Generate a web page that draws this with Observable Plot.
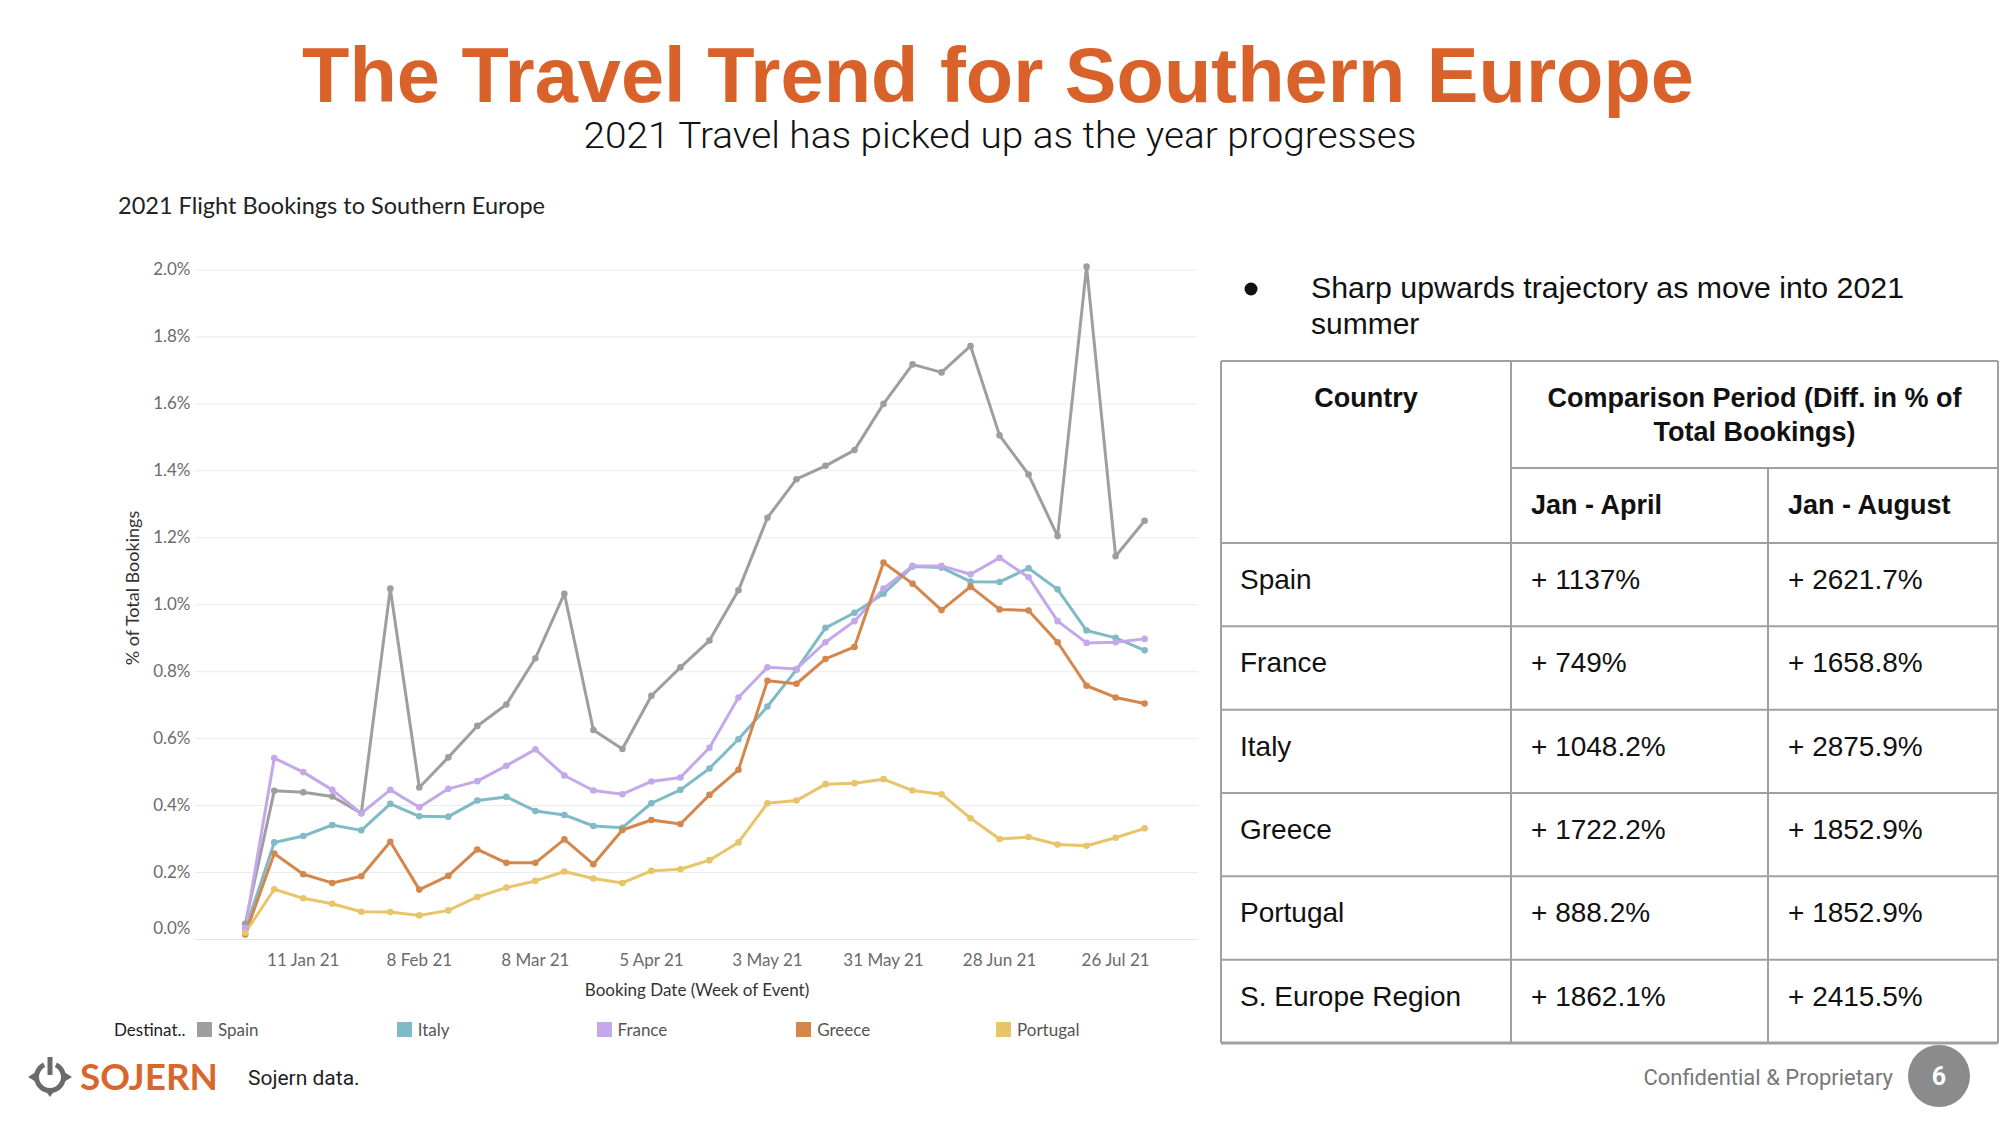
<!DOCTYPE html>
<html><head><meta charset="utf-8">
<script src="https://cdn.jsdelivr.net/npm/d3@7"></script>
<script src="https://cdn.jsdelivr.net/npm/@observablehq/plot@0.6"></script>
<style>
html,body{margin:0;padding:0;background:#fff;}
body{width:2000px;height:1125px;position:relative;overflow:hidden;}
#page{position:absolute;left:0;top:0;}
#chart{position:absolute;left:0;top:200px;}
#legend{position:absolute;left:114px;top:1013px;height:33px;display:flex;align-items:center;font-family:Lato,sans-serif;font-size:17px;color:#555;}
#legend .lbl{display:inline-block;width:83px;color:#222;}
.lg-swatches-wrap{margin:0 !important;}
.lg-swatches-wrap .lg-swatch{width:199.75px;margin-right:0 !important;}
.lg-swatch > svg{margin-right:6px !important;}
</style></head>
<body>
<svg id="page" width="2000" height="1125"></svg>
<div id="chart"></div>
<div id="legend"></div>
<script>
// ---------- data ----------
const weeks = ["2020-12-28","2021-01-04","2021-01-11","2021-01-18","2021-01-25","2021-02-01","2021-02-08","2021-02-15","2021-02-22","2021-03-01","2021-03-08","2021-03-15","2021-03-22","2021-03-29","2021-04-05","2021-04-12","2021-04-19","2021-04-26","2021-05-03","2021-05-10","2021-05-17","2021-05-24","2021-05-31","2021-06-07","2021-06-14","2021-06-21","2021-06-28","2021-07-05","2021-07-12","2021-07-19","2021-07-26","2021-08-02"];
const countries = ["Spain","Italy","France","Greece","Portugal"];
const palette = ["#9e9e9e","#7fbac6","#c4a8ea","#d4874c","#e8c46a"];
const spain    = [0.047,0.444,0.440,0.427,0.377,1.048,0.454,0.544,0.638,0.702,0.840,1.033,0.626,0.569,0.728,0.813,0.893,1.043,1.260,1.375,1.415,1.462,1.600,1.718,1.694,1.773,1.506,1.389,1.205,2.010,1.145,1.251];
const italy    = [0.029,0.290,0.309,0.342,0.326,0.405,0.368,0.367,0.415,0.426,0.384,0.372,0.339,0.334,0.407,0.447,0.511,0.598,0.696,0.806,0.931,0.976,1.033,1.114,1.111,1.069,1.068,1.109,1.046,0.923,0.901,0.864];
const france   = [0.035,0.542,0.500,0.447,0.377,0.447,0.395,0.450,0.473,0.519,0.568,0.490,0.445,0.434,0.472,0.484,0.573,0.723,0.813,0.808,0.888,0.951,1.048,1.116,1.116,1.091,1.140,1.082,0.951,0.886,0.888,0.898];
const greece   = [0.015,0.257,0.195,0.169,0.189,0.292,0.149,0.190,0.269,0.229,0.229,0.299,0.225,0.327,0.357,0.345,0.432,0.507,0.773,0.764,0.838,0.874,1.126,1.063,0.984,1.054,0.986,0.983,0.888,0.758,0.723,0.705];
const portugal = [0.020,0.150,0.123,0.107,0.083,0.082,0.072,0.087,0.127,0.155,0.175,0.203,0.182,0.169,0.205,0.210,0.237,0.290,0.407,0.415,0.464,0.467,0.479,0.445,0.434,0.362,0.300,0.306,0.284,0.280,0.304,0.332];
const yTicks = [0,0.2,0.4,0.6,0.8,1.0,1.2,1.4,1.6,1.8,2.0];
const xTicks = ["2021-01-11","2021-02-08","2021-03-08","2021-04-05","2021-05-03","2021-05-31","2021-06-28","2021-07-26"];
const xLabel = "Booking Date (Week of Event)";
const yLabel = "% of Total Bookings";
const chartTitle = "2021 Flight Bookings to Southern Europe";
const legendTitle = "Destinat..";

const tableCountries = ["Spain","France","Italy","Greece","Portugal","S. Europe Region"];
const janApril  = ["+ 1137%","+ 749%","+ 1048.2%","+ 1722.2%","+ 888.2%","+ 1862.1%"];
const janAugust = ["+ 2621.7%","+ 1658.8%","+ 2875.9%","+ 1852.9%","+ 1852.9%","+ 2415.5%"];

// ---------- chart ----------
const seriesList = [spain, italy, france, greece, portugal];
const data = [];
countries.forEach((c, ci) => seriesList[ci].forEach((v, i) => data.push({date: new Date(weeks[i]), value: v, country: c})));
const pct = d => d.toFixed(1) + "%";

const chart = Plot.plot({
  width: 1200, height: 800,
  marginLeft: 195, marginRight: 2, marginTop: 36, marginBottom: 61,
  style: {fontFamily: "Lato, sans-serif", fontSize: "17px", background: "transparent", overflow: "visible"},
  x: {type: "utc", domain: [new Date("2020-12-16"), new Date("2021-08-15")]},
  y: {domain: [0, 2.1]},
  color: {domain: countries, range: palette},
  marks: [
    Plot.gridY(yTicks.slice(1), {stroke: "#ececec", strokeOpacity: 1}),
    Plot.ruleY([0], {stroke: "#e2e2e2"}),
    Plot.axisY(yTicks.slice(1), {tickSize: 0, tickPadding: 5, tickFormat: pct, color: "#6b6b6b", label: null}),
    Plot.axisY([0], {tickSize: 0, tickPadding: 5, tickFormat: pct, color: "#6b6b6b", dy: -11, label: null}),
    Plot.axisX(xTicks.map(d => new Date(d)), {tickSize: 0, tickPadding: 14, tickFormat: d3.utcFormat("%-d %b %y"), color: "#6b6b6b", label: null}),
    Plot.text([yLabel], {frameAnchor: "left", textAnchor: "middle", dx: -62, rotate: -90, fill: "#333", fontSize: 18}),
    Plot.text([xLabel], {frameAnchor: "bottom", dy: 56, fill: "#333", fontSize: 17}),
    Plot.line(data, {x: "date", y: "value", stroke: "country", z: "country", strokeWidth: 3}),
    Plot.dot(data, {x: "date", y: "value", fill: "country", r: 3.3})
  ]
});
document.getElementById("chart").appendChild(chart);

// legend
const legendDiv = document.getElementById("legend");
const lbl = document.createElement("span");
lbl.className = "lbl"; lbl.textContent = legendTitle;
legendDiv.appendChild(lbl);
const lg = chart.legend("color", {className: "lg", swatchSize: 15, style: {fontFamily: "Lato, sans-serif", fontSize: "17px", color: "#555"}});
legendDiv.appendChild(lg);

// ---------- page decoration ----------
const svg = d3.select("#page");
function T(x, y, txt, a) {
  const t = svg.append("text").attr("x", x).attr("y", y).text(txt);
  for (const k in a) t.attr(k, a[k]);
  return t;
}
const ARIAL = "'Liberation Sans', Arial, sans-serif";
T(998, 102, "The Travel Trend for Southern Europe", {"font-family": ARIAL, "font-weight": 700, "font-size": 77, fill: "#d9622b", "text-anchor": "middle", textLength: 1392, lengthAdjust: "spacingAndGlyphs"});
T(1000, 148, "2021 Travel has picked up as the year progresses", {"font-family": "Roboto, sans-serif", "font-weight": 300, "font-size": 37, fill: "#111", "text-anchor": "middle", textLength: 833, lengthAdjust: "spacingAndGlyphs"});
T(118, 214, chartTitle, {"font-family": "Lato, sans-serif", "font-size": 23, fill: "#222", textLength: 427, lengthAdjust: "spacingAndGlyphs"});

// bullet
svg.append("circle").attr("cx", 1251).attr("cy", 289).attr("r", 6.5).attr("fill", "#111");
T(1311, 298, "Sharp upwards trajectory as move into 2021", {"font-family": ARIAL, "font-size": 30, fill: "#111", textLength: 593, lengthAdjust: "spacingAndGlyphs"});
T(1311, 334, "summer", {"font-family": ARIAL, "font-size": 30, fill: "#111"});

// table
const TL = 1221, TR = 1998, TT = 361, TB = 1043, C1 = 1511, C2 = 1768, HS = 468, HB = 543, RH = (TB - HB) / tableCountries.length;
const lineC = "#a0a0a0";
function L(x1, y1, x2, y2, w) { svg.append("line").attr("x1", x1).attr("y1", y1).attr("x2", x2).attr("y2", y2).attr("stroke", lineC).attr("stroke-width", w || 2); }
L(TL, TT, TR, TT); L(TL, TT, TL, TB); L(TR, TT, TR, TB); L(TL, TB, TR, TB, 3);
L(C1, TT, C1, TB); L(C2, HS, C2, TB); L(C1, HS, TR, HS);
for (let i = 0; i < tableCountries.length; i++) L(TL, HB + i * RH, TR, HB + i * RH);
const hb = {"font-family": ARIAL, "font-weight": 700, "font-size": 27, fill: "#111"};
T((TL + C1) / 2, 407, "Country", Object.assign({"text-anchor": "middle"}, hb));
T((C1 + TR) / 2, 407, "Comparison Period (Diff. in % of", Object.assign({"text-anchor": "middle"}, hb));
T((C1 + TR) / 2, 441, "Total Bookings)", Object.assign({"text-anchor": "middle"}, hb));
T(C1 + 20, 514, "Jan - April", hb);
T(C2 + 20, 514, "Jan - August", hb);
const rb = {"font-family": ARIAL, "font-size": 28, fill: "#111"};
tableCountries.forEach((c, i) => {
  const y = HB + i * RH + 46;
  T(TL + 19, y, c, rb);
  T(C1 + 20, y, janApril[i], rb);
  T(C2 + 20, y, janAugust[i], rb);
});

// footer logo
const arc = d3.arc()({innerRadius: 11, outerRadius: 16, startAngle: Math.PI / 7, endAngle: 2 * Math.PI - Math.PI / 7});
svg.append("path").attr("d", arc).attr("transform", "translate(50,1077)").attr("fill", "#6a6a6a");
svg.append("rect").attr("x", 47.5).attr("y", 1057).attr("width", 5).attr("height", 18).attr("fill", "#6a6a6a");
svg.append("polygon").attr("points", "28,1077 36,1072 36,1082").attr("fill", "#6a6a6a");
svg.append("polygon").attr("points", "72,1077 64,1072 64,1082").attr("fill", "#6a6a6a");
svg.append("polygon").attr("points", "50,1097 45,1090 55,1090").attr("fill", "#6a6a6a");
T(80, 1090, "SOJERN", {"font-family": "Lato, sans-serif", "font-weight": 700, "font-size": 37, fill: "#d8672e", textLength: 138, lengthAdjust: "spacingAndGlyphs"});
T(248, 1085, "Sojern data.", {"font-family": "Roboto, sans-serif", "font-size": 21, fill: "#222"});
T(1893, 1085, "Confidential & Proprietary", {"font-family": "Roboto, sans-serif", "font-size": 22, fill: "#777", "text-anchor": "end"});
svg.append("circle").attr("cx", 1939).attr("cy", 1076).attr("r", 31).attr("fill", "#8b8b8b");
T(1939, 1085, "6", {"font-family": "Roboto, sans-serif", "font-weight": 700, "font-size": 25, fill: "#fff", "text-anchor": "middle"});
</script>
</body></html>
